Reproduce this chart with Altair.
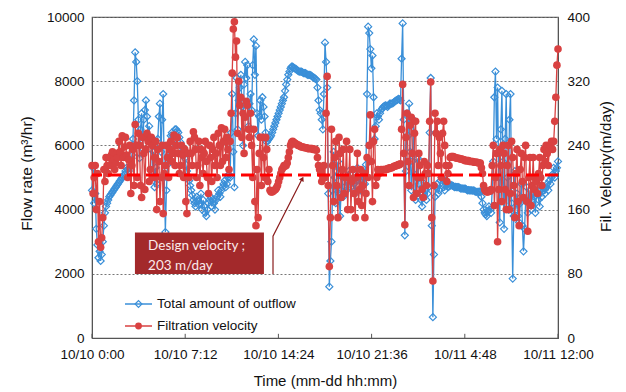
import altair as alt
import pandas as pd

# Logged every 5 minutes from 10/10 0:00 to 10/11 12:00
step_min = 5

# Total amount of outflow (m3/hr)
flow_rate = [
    4600, 5300, 4200, 4500, 3400, 2900, 2500, 2700, 2400, 2600, 3000, 3500, 3900, 4100, 4200, 4300, 4400, 4450, 4500, 4550,
    4600, 4650, 4700, 4750, 4800, 4850, 4900, 4950, 5000, 5050, 5100, 5200, 5300, 5250, 5200, 5300, 5400, 5700, 6200, 7400,
    8900, 8600, 8000, 6800, 5600, 6500, 7000, 5900, 6800, 7100, 7400, 6900, 6300, 6600, 5900, 6200, 5200, 5800, 4700, 5300,
    4800, 6200, 6900, 7300, 5800, 6800, 7600, 5000, 3300, 4600, 5400, 5700, 6000, 6300, 6400, 6300, 6200, 6500, 6500, 6450,
    6400, 6250, 6100, 5950, 5800, 5700, 5600, 5400, 5200, 5050, 4900, 4750, 4600, 4450, 4300, 4200, 4100, 4400, 4300, 4150,
    4200, 4500, 4000, 4300, 4100, 3900, 3800, 4000, 4200, 4300, 4400, 4100, 4300, 4200, 4000, 4300, 4400, 4600, 4500, 4400,
    4600, 4700, 4800, 4900, 4700, 4800, 5000, 5100, 5000, 6400, 7600, 5800, 4700, 7000, 8100, 6500, 7400, 7800, 8200, 7200,
    6000, 7900, 8600, 8100, 8500, 6600, 7300, 7600, 7100, 8500, 9300, 8200, 9100, 7000, 6300, 6900, 7400, 6800, 7500, 7200,
    6900, 6400, 6100, 6150, 6200, 6250, 6300, 6400, 6500, 6600, 6700, 6800, 6900, 7000, 7100, 7200, 7300, 7400, 7500, 7700,
    7900, 8050, 8200, 8300, 8400, 8450, 8450, 8420, 8400, 8380, 8350, 8320, 8300, 8300, 8300, 8280, 8250, 8250, 8250, 8220,
    8200, 8200, 8200, 8180, 8150, 8120, 8100, 8080, 8050, 7800, 7400, 7100, 7000, 6800, 6500, 7600, 9200, 8600, 7800, 4500,
    1600, 2400, 3000, 4600, 5800, 5000, 4200, 5200, 5500, 4500, 3800, 4600, 5000, 4400, 4700, 5100, 4600, 4900, 5200, 4800,
    4700, 4900, 5100, 4800, 4500, 4900, 5300, 5000, 4900, 4600, 4700, 5200, 5000, 4800, 5400, 7600, 9700, 9500, 9000, 8400,
    8800, 7500, 6200, 6600, 7000, 6900, 6800, 7000, 7100, 7150, 7200, 7220, 7250, 7230, 7200, 7250, 7300, 7300, 7300, 7320,
    7350, 7380, 7400, 7420, 7450, 7430, 7400, 8700, 9800, 6800, 3200, 5200, 7000, 6300, 7300, 5800, 4600, 5500, 6800, 5100,
    4300, 5000, 5600, 4800, 4500, 4300, 4100, 4500, 4800, 4600, 4300, 4500, 4700, 6400, 8100, 3500, 650, 2600, 4400, 4700,
    4800, 4500, 4600, 4900, 5000, 4800, 4700, 4600, 4900, 4800, 4700, 4720, 4750, 4760, 4750, 4730, 4700, 4710, 4700, 4700,
    4700, 4680, 4650, 4660, 4650, 4650, 4650, 4630, 4600, 4610, 4600, 4600, 4600, 4590, 4600, 4570, 4550, 4550, 4550, 4560,
    4550, 4400, 4200, 4000, 3900, 3850, 3800, 3950, 4100, 4000, 3900, 4600, 5500, 7500, 8300, 6200, 7800, 5000, 3600, 6500,
    7700, 5500, 3400, 6200, 7600, 5000, 4000, 6800, 7600, 4200, 1850, 3800, 5200, 4000, 4500, 3800, 3600, 4200, 4800, 3500,
    2700, 3400, 4300, 4700, 3900, 4200, 4600, 4000, 4300, 4500, 4400, 3900, 4500, 4600, 4300, 4100, 4600, 4400, 4700, 4600,
    4500, 4700, 4800, 4600, 4900, 4800, 5000, 5100, 5300, 5000, 5200, 5300, 5500,
]

# Filtration velocity (m/day)
fil_velocity = [
    215, 180, 200, 215, 160, 205, 120, 170, 113, 125, 150, 210, 195, 225, 215, 205, 225, 215, 228, 232,
    222, 210, 218, 230, 225, 245, 232, 215, 252, 225, 238, 250, 228, 200, 222, 240, 180, 215, 235, 190,
    266, 240, 200, 255, 240, 190, 175, 250, 230, 185, 235, 255, 245, 195, 210, 250, 240, 200, 225, 245,
    160, 235, 220, 170, 200, 240, 155, 205, 215, 240, 225, 200, 235, 245, 220, 230, 253, 215, 240, 250,
    230, 205, 215, 240, 228, 200, 235, 170, 155, 230, 200, 245, 230, 215, 257, 250, 235, 200, 215, 245,
    190, 235, 225, 205, 230, 245, 220, 200, 180, 240, 225, 195, 235, 250, 215, 230, 200, 255, 240, 215,
    262, 220, 245, 260, 225, 250, 235, 210, 245, 280, 330, 385, 394, 350, 370, 255, 320, 290, 300, 250,
    280, 230, 275, 295, 290, 260, 250, 280, 240, 200, 260, 170, 140, 210, 150, 230, 250, 190, 250, 225,
    200, 250, 235, 195, 210, 184, 182, 182, 183, 184, 185, 187, 190, 195, 200, 205, 210, 212, 215, 214,
    215, 218, 225, 232, 240, 244, 245, 244, 243, 242, 241, 240, 240, 239, 238, 238, 238, 237, 237, 237,
    236, 236, 236, 236, 236, 235, 235, 235, 234, 225, 215, 210, 205, 195, 200, 215, 200, 280, 326, 190,
    89, 150, 260, 215, 170, 225, 245, 190, 150, 250, 230, 175, 210, 235, 180, 200, 245, 160, 200, 235,
    160, 195, 210, 180, 150, 200, 230, 170, 185, 210, 165, 190, 205, 150, 180, 225, 200, 240, 278, 220,
    170, 245, 260, 190, 200, 210, 205, 208, 210, 209, 210, 210, 210, 210, 211, 211, 212, 212, 212, 213,
    214, 214, 215, 215, 216, 216, 217, 260, 316, 230, 141, 250, 280, 220, 190, 265, 275, 230, 175, 255,
    270, 180, 200, 230, 215, 200, 185, 175, 220, 205, 190, 215, 205, 270, 319, 150, 71, 190, 280, 255,
    270, 215, 250, 230, 200, 255, 270, 240, 215, 195, 205, 215, 225, 226, 226, 226, 225, 225, 224, 224,
    224, 223, 223, 223, 222, 222, 221, 221, 221, 221, 220, 220, 220, 220, 219, 219, 219, 219, 218, 218,
    218, 212, 205, 190, 185, 183, 182, 182, 183, 183, 185, 215, 240, 165, 200, 230, 120, 185, 235, 215,
    170, 240, 230, 185, 160, 215, 240, 160, 180, 245, 225, 190, 150, 205, 235, 170, 140, 210, 230, 195,
    175, 225, 240, 170, 133, 200, 225, 165, 190, 225, 185, 200, 195, 180, 205, 225, 200, 190, 215, 235,
    220, 240, 230, 215, 235, 240, 245, 235, 245, 270, 300, 340, 360,
]

design_velocity = 203  # m/day

tick_minutes = [0, 432, 864, 1296, 1728, 2160]
tick_labels = ["10/10 0:00", "10/10 7:12", "10/10 14:24",
               "10/10 21:36", "10/11 4:48", "10/11 12:00"]
flow_ticks = [0, 2000, 4000, 6000, 8000, 10000]
vel_ticks = [0, 80, 160, 240, 320, 400]
series_names = ["Total amount of outflow", "Filtration velocity"]

BLUE = "#3A8FD8"
RED = "#D94141"
DARK_RED = "#A3292B"
FONT = "Liberation Sans"

minutes = [i * step_min for i in range(len(flow_rate))]
df = pd.DataFrame({"minute": minutes, "flow": flow_rate, "velocity": fil_velocity})

label_expr = " : ".join(
    f"datum.value == {m} ? '{t}'" for m, t in zip(tick_minutes, tick_labels)
) + " : ''"

x_scale = alt.Scale(domain=[0, 2160], nice=False, zero=False)
flow_scale = alt.Scale(domain=[0, 10000], nice=False)
vel_scale = alt.Scale(domain=[0, 400], nice=False)

x_axis = alt.Axis(values=tick_minutes, labelExpr=label_expr, title="Time (mm-dd hh:mm)",
                  ticks=False, grid=False, labelPadding=9, titlePadding=13,
                  titleFontSize=15, domainColor="#555", labelFlush=False, labelOverlap=False)
left_axis = alt.Axis(values=flow_ticks, format="d", title="Flow rate (m³/hr)", ticks=False,
                     grid=True, gridDash=[2, 2], gridColor="#777777", gridWidth=1,
                     labelPadding=8, titlePadding=12, titleFontSize=15.5, titleY=156,
                     domainColor="#555")
right_axis = alt.Axis(values=vel_ticks, format="d", title="Fil. Velocity(m/day)", orient="right",
                      ticks=False, grid=False, labelPadding=9, titlePadding=24,
                      titleFontSize=15.5, titleAngle=270, titleY=149, domainColor="#555")


def xs(field="minute:Q"):
    return alt.X(field, scale=x_scale, axis=x_axis)


def yl(field="flow:Q"):
    return alt.Y(field, scale=flow_scale, axis=left_axis)


def yr(field="velocity:Q"):
    return alt.Y(field, scale=vel_scale, axis=right_axis)


# Outflow series: line with hollow diamonds
blue_base = alt.Chart(df).encode(x=xs(), y=yl())
blue_line = blue_base.mark_line(color=BLUE, strokeWidth=1.3)
blue_pts = blue_base.mark_point(shape="diamond", filled=False, color=BLUE, size=50,
                                strokeWidth=1.2, opacity=1)

# Small inward ticks on the time axis
tick_df = pd.DataFrame({"minute": tick_minutes, "flow": [0] * 6, "flow_top": [130] * 6})
x_ticks = alt.Chart(tick_df).mark_rule(color="#555", strokeWidth=1).encode(
    x=xs(), y=yl(), y2="flow_top:Q")

# Design velocity call-out box, text and arrow
box_df = pd.DataFrame({"minute": [199], "minute_end": [797], "flow": [1990], "flow_top": [3290]})
box = alt.Chart(box_df).mark_rect(color=DARK_RED).encode(
    x=xs(), x2="minute_end:Q", y=yl(), y2="flow_top:Q")

note_df = pd.DataFrame({"minute": [260, 260], "flow": [2880, 2250],
                        "line": ["Design velocity ;", "203 m/day"]})
note = alt.Chart(note_df).mark_text(align="left", baseline="middle", color="#FBEAEA",
                                    font="Lato", fontSize=13.5).encode(
    x=xs(), y=yl(), text="line:N")

arrow_df = pd.DataFrame({"minute": [839, 839, 972], "flow": [1990, 3170, 4930], "k": [0, 1, 2]})
arrow = alt.Chart(arrow_df).mark_line(color="#8B1E1E", strokeWidth=1.2).encode(
    x=xs(), y=yl(), order="k:O")
head_df = pd.DataFrame({"minute": [975], "flow": [4960]})
head = alt.Chart(head_df).mark_point(shape="triangle-up", filled=True, color="#8B1E1E",
                                     size=28, angle=27, opacity=1).encode(x=xs(), y=yl())

left_group = alt.layer(blue_line, blue_pts, x_ticks, box, note, arrow, head)

# Filtration velocity series: line with filled circles
red_base = alt.Chart(df).encode(x=xs(), y=yr())
red_line = red_base.mark_line(color=RED, strokeWidth=1.3)
red_pts = red_base.mark_circle(color=RED, size=58, opacity=1)

design_df = pd.DataFrame({"velocity": [design_velocity]})
design_rule = alt.Chart(design_df).mark_rule(color="#FF0000", strokeWidth=3, strokeDash=[13, 6]).encode(
    y=yr())

# Legend drawn inside the plot area
one = pd.DataFrame({"k": [0]})
leg_y = [287, 309]
leg_blue_line = alt.Chart(one).mark_rule(color=BLUE, strokeWidth=1.5).encode(
    x=alt.value(33), x2=alt.value(60), y=alt.value(leg_y[0]))
leg_blue_pt = alt.Chart(one).mark_point(shape="diamond", filled=False, color=BLUE, size=46,
                                        strokeWidth=1.2, opacity=1).encode(
    x=alt.value(46.5), y=alt.value(leg_y[0]))
leg_red_line = alt.Chart(one).mark_rule(color=RED, strokeWidth=1.5).encode(
    x=alt.value(33), x2=alt.value(60), y=alt.value(leg_y[1]))
leg_red_pt = alt.Chart(one).mark_circle(color=RED, size=46, opacity=1).encode(
    x=alt.value(46.5), y=alt.value(leg_y[1]))
leg_text_style = dict(align="left", baseline="middle", font=FONT, fontSize=13.5, color="#111")
leg_text_blue = alt.Chart(one).mark_text(text=series_names[0], **leg_text_style).encode(
    x=alt.value(65), y=alt.value(leg_y[0]))
leg_text_red = alt.Chart(one).mark_text(text=series_names[1], **leg_text_style).encode(
    x=alt.value(65), y=alt.value(leg_y[1]))

right_group = alt.layer(red_line, red_pts, design_rule,
                        leg_blue_line, leg_blue_pt, leg_red_line, leg_red_pt,
                        leg_text_blue, leg_text_red)

chart = (
    alt.layer(left_group, right_group)
    .resolve_scale(y="independent")
    .properties(width=466, height=321, autosize=alt.AutoSizeParams(type="none"),
                padding={"left": 92, "top": 17, "right": 68, "bottom": 54})
    .configure_view(stroke="#555", strokeWidth=1.2)
    .configure_axis(labelFont=FONT, labelFontSize=13.5, labelColor="#111",
                    titleFont=FONT, titleColor="#111", titleFontWeight="normal")
)

chart.save("out.html", embed_options={"renderer": "svg", "actions": False})
